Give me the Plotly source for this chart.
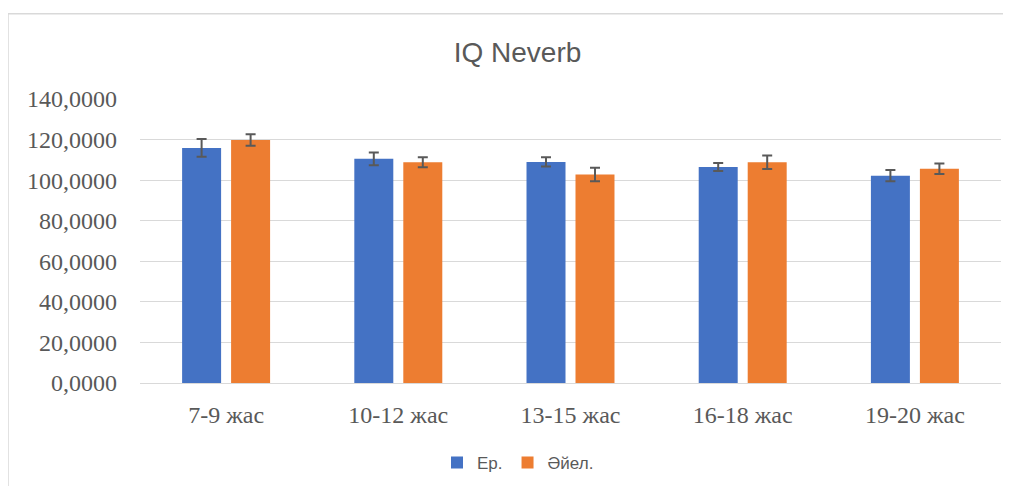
import plotly.graph_objects as go

categories = ["7-9 жас", "10-12 жас", "13-15 жас", "16-18 жас", "19-20 жас"]
male = [115.9, 110.5, 109.0, 106.5, 102.2]
male_err = [4.4, 3.1, 2.3, 2.0, 2.8]
female = [119.8, 108.8, 102.8, 108.8, 105.6]
female_err = [2.8, 2.5, 3.3, 3.3, 2.6]
y_ticks = [0, 20, 40, 60, 80, 100, 120, 140]

OFF = 8  # page body margin
W, H = 1011 - OFF, 486 - OFF
# screen coordinates of plot area
SL, SR, ST, SB = 140, 1001, 98.5, 383
L = SL - OFF
R = W - (SR - OFF)
T = ST - OFF
B = H - (SB - OFF)
pw = W - L - R
ph = H - T - B

def px_x(x):
    return (x - OFF - L) / pw

def px_y(y):
    return (SB - y) / ph

err_style = dict(type="data", color="#595959", thickness=2, width=5)

fig = go.Figure()
fig.add_trace(go.Bar(
    x=categories, y=male, name="Ер.",
    marker=dict(color="#4472C4", line=dict(width=0)),
    error_y=dict(array=male_err, **err_style),
))
fig.add_trace(go.Bar(
    x=categories, y=female, name="Әйел.",
    marker=dict(color="#ED7D31", line=dict(width=0)),
    error_y=dict(array=female_err, **err_style),
))

fig.update_layout(
    width=W, height=H,
    margin=dict(l=L, r=R, t=T, b=B, pad=0, autoexpand=False),
    paper_bgcolor="white", plot_bgcolor="white",
    barmode="group", bargap=0.431, bargroupgap=0.204,
    separators=", ",
    title=dict(text="IQ Neverb", x=px_x(517.5) * pw / W + L / W, xanchor="center",
               y=1 - (52 - OFF) / H, yanchor="middle",
               font=dict(family="Liberation Sans", size=28, color="#595959")),
    xaxis=dict(showgrid=False, showline=True, linecolor="#d9d9d9", linewidth=1.3,
               ticks="", tickfont=dict(family="Liberation Serif", size=24, color="#595959"),
               ticklabelstandoff=10, automargin=False),
    yaxis=dict(range=[0, 140], tickvals=y_ticks, tickformat=".4f",
               showgrid=True, gridcolor="#d9d9d9", gridwidth=1.3,
               zeroline=False, showline=False, ticks="",
               tickfont=dict(family="Liberation Serif", size=24, color="#595959"),
               ticklabelstandoff=22, automargin=False),
    showlegend=True,
    legend=dict(orientation="h", x=px_x(518), xanchor="center", y=px_y(463), yanchor="middle",
                font=dict(family="Liberation Sans", size=17, color="#595959"),
                itemwidth=30, traceorder="normal"),
    shapes=[dict(type="rect", xref="paper", yref="paper",
                 x0=px_x(8), x1=px_x(1030), y0=px_y(520), y1=px_y(13),
                 line=dict(color="#d9d9d9", width=1.5), layer="below")],
)

fig.write_html("out.html")
